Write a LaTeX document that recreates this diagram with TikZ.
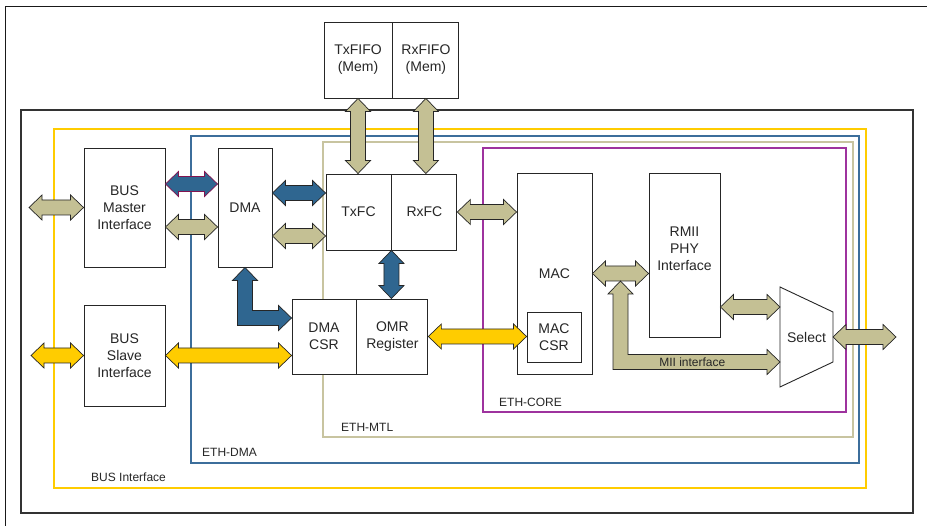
\documentclass[tikz,border=0pt]{standalone}
\usepackage{fontspec}
\setmainfont{Liberation Sans}
\usetikzlibrary{calc,positioning}

\definecolor{khaki}{RGB}{196,192,148}
\definecolor{dmablue}{RGB}{47,102,144}
\definecolor{busyellow}{RGB}{255,204,0}
\definecolor{mtlkhaki}{RGB}{200,196,160}
\definecolor{framblue}{RGB}{60,110,155}
\definecolor{corepurple}{RGB}{158,50,158}
\definecolor{maroon}{RGB}{130,20,80}

% arrow geometry: head length, head half width, shaft half width
\def\hl{13pt}
\def\hw{12.5pt}
\def\sw{7.5pt}

% fat double arrow, left end to right end
\newcommand\harrow[3]{%
  \filldraw[#1] let \p1=(#2), \p2=(#3) in
    (\x1,\y1) -- ({\x1+\hl},{\y1+\hw}) -- ({\x1+\hl},{\y1+\sw})
    -- ({\x2-\hl},{\y1+\sw}) -- ({\x2-\hl},{\y1+\hw}) -- (\x2,\y1)
    -- ({\x2-\hl},{\y1-\hw}) -- ({\x2-\hl},{\y1-\sw})
    -- ({\x1+\hl},{\y1-\sw}) -- ({\x1+\hl},{\y1-\hw}) -- cycle;}

% fat double arrow, top end to bottom end
\newcommand\varrow[3]{%
  \filldraw[#1] let \p1=(#2), \p2=(#3) in
    (\x1,\y1) -- ({\x1+\hw},{\y1-\hl}) -- ({\x1+\sw},{\y1-\hl})
    -- ({\x1+\sw},{\y2+\hl}) -- ({\x1+\hw},{\y2+\hl}) -- (\x1,\y2)
    -- ({\x1-\hw},{\y2+\hl}) -- ({\x1-\sw},{\y2+\hl})
    -- ({\x1-\sw},{\y1-\hl}) -- ({\x1-\hw},{\y1-\hl}) -- cycle;}

% fat L arrow, top end down and then right
\newcommand\larrow[3]{%
  \filldraw[#1] let \p1=(#2), \p2=(#3) in
    (\x1,\y1) -- ({\x1+\hw},{\y1-\hl}) -- ({\x1+\sw},{\y1-\hl})
    -- ({\x1+\sw},{\y2+\sw}) -- ({\x2-\hl},{\y2+\sw})
    -- ({\x2-\hl},{\y2+\hw}) -- (\x2,\y2) -- ({\x2-\hl},{\y2-\hw})
    -- ({\x2-\hl},{\y2-\sw}) -- ({\x1-\sw},{\y2-\sw})
    -- ({\x1-\sw},{\y1-\hl}) -- ({\x1-\hw},{\y1-\hl}) -- cycle;}

\tikzset{
  block/.style={draw=black!85, fill=white, line width=0.9pt, inner sep=0pt,
    align=center, text=black!85, font=\fontsize{14}{17}\selectfont},
  frame/.style={line width=1.3pt},
  framelabel/.style={anchor=west, inner sep=0pt, text=black!85,
    font=\fontsize{12}{14}\selectfont},
  kharrow/.style={fill=khaki, draw=black!85, line width=0.7pt},
  blarrow/.style={fill=dmablue, draw=black!85, line width=0.7pt},
  ylarrow/.style={fill=busyellow, draw=black!85, line width=0.7pt},
}

\begin{document}
\begin{tikzpicture}[x=1pt,y=-1pt]
\useasboundingbox (0,0) rectangle (927,526);

% frames
\draw[line width=0.9pt, black!90] (5,6) rectangle (945,545);
\draw[line width=1.5pt, black!80] (21,110) rectangle (913,513);
\draw[frame, busyellow] (54,129) rectangle (866,488);
\draw[frame, framblue] (191,136) rectangle (859,463);
\draw[frame, mtlkhaki] (323,142) rectangle (853,437);
\draw[frame, corepurple] (483,148) rectangle (846,412);

\node[framelabel] (lblbus) at (91,477) {BUS Interface};
\node[framelabel] (lbldma) at (202,452) {ETH-DMA};
\node[framelabel] (lblmtl) at (341,427) {ETH-MTL};
\node[framelabel] (lblcore) at (499,402) {ETH-CORE};

% blocks
\node[block, minimum width=81, minimum height=119] (bm) at (124.5,207.5) {BUS\\Master\\Interface};
\node[block, minimum width=81, minimum height=101] (bs) at (124.5,355.5) {BUS\\Slave\\Interface};
\node[block, minimum width=54, minimum height=119] (dma) at (245,207.5) {DMA};

\node[block, minimum width=68, minimum height=76] (txfifo) at (358,60) {TxFIFO\\(Mem)};
\node[block, minimum width=66, minimum height=76, right=0pt of txfifo] (rxfifo) {RxFIFO\\(Mem)};

\node[block, minimum width=65, minimum height=76] (txfc) at (358.5,212) {TxFC};
\node[block, minimum width=65, minimum height=76, right=0pt of txfc] (rxfc) {RxFC};

\node[block, minimum width=64, minimum height=75] (dmacsr) at (324,336.5) {DMA\\CSR};
\node[block, minimum width=71, minimum height=75, right=0pt of dmacsr] (omr) {OMR\\Register};

\node[block, minimum width=75, minimum height=201] (mac) at (554.5,273.5) {MAC};
\node[block, minimum width=54, minimum height=50] (maccsr) at (554,337) {MAC\\CSR};
\node[block, minimum width=71, minimum height=164] (rmii) at (684.5,255) {RMII\\PHY\\Interface\\[-4pt]};

% select
\coordinate (selnw) at (780,287);
\coordinate (selne) at (833,312);
\coordinate (selse) at (833,362);
\coordinate (selsw) at (780,387);
\draw[line width=0.9pt, black!85, fill=white] (selnw) -- (selne) -- (selse) -- (selsw) -- cycle;
\node[text=black!85, font=\fontsize{14}{17}\selectfont] (sel) at (806.5,337) {Select};
\coordinate (selin1) at (780,307);
\coordinate (selin2) at (780,362);
\coordinate (selout) at (833,337);

% free ends
\coordinate (busm) at (29,207.5);
\coordinate (buss) at (31,355.5);
\coordinate (phyout) at (896,337);
\coordinate (miitop) at ($(mac.east)!0.5!(rmii.west |- mac.east)+(0,7.5)$);

% connectors
\harrow{kharrow}{busm}{bm.west}
\harrow{blarrow, draw=maroon}{bm.east |- 0,184}{dma.west |- 0,184}
\harrow{kharrow}{bm.east |- 0,227}{dma.west |- 0,227}
\harrow{blarrow}{dma.east |- 0,193}{txfc.west |- 0,193}
\harrow{kharrow}{dma.east |- 0,236}{txfc.west |- 0,236}
\varrow{kharrow}{txfifo.south}{txfifo.south |- txfc.north}
\varrow{kharrow}{rxfifo.south}{rxfifo.south |- rxfc.north}
\harrow{kharrow}{rxfc.east}{mac.west |- rxfc.east}
\varrow{blarrow}{rxfc.south west}{rxfc.south west |- omr.north}
\larrow{blarrow}{dma.south}{$(dmacsr.west)+(0,-18.5)$}
\harrow{ylarrow}{buss}{bs.west}
\harrow{ylarrow}{bs.east}{dmacsr.west |- bs.east}
\harrow{ylarrow}{omr.east}{maccsr.west}
\harrow{kharrow}{mac.east}{rmii.west |- mac.east}
\larrow{kharrow}{miitop}{selin2}
\harrow{kharrow}{rmii.east |- selin1}{selin1}
\harrow{kharrow}{selout}{phyout}

\node[inner sep=0pt, text=black!85, font=\fontsize{12}{14}\selectfont] (miilbl)
  at ($(miitop |- selin2)!0.45!(selin2)$) {MII interface};

\end{tikzpicture}
\end{document}
